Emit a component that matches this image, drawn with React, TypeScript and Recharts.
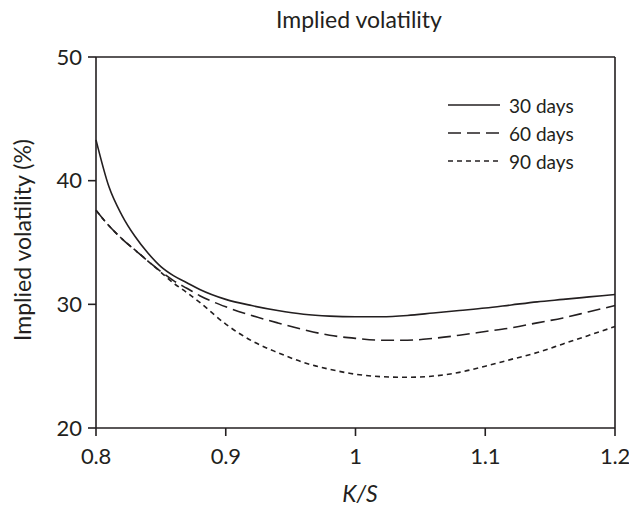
import React from 'react';
import {
  LineChart,
  Line,
  XAxis,
  YAxis,
  ReferenceLine,
  Label,
} from 'recharts';

// strike / spot ratio
const strikes = [
  0.8, 0.81, 0.82, 0.83, 0.84, 0.85, 0.86, 0.87, 0.88, 0.9, 0.92, 0.94, 0.96,
  0.98, 1.0, 1.02, 1.04, 1.06, 1.08, 1.1, 1.12, 1.14, 1.16, 1.18, 1.2,
];

// implied vols (%)
const vol30 = [
  43.3, 39.5, 37.2, 35.5, 34.15, 33.05, 32.3, 31.75, 31.2, 30.4, 29.9, 29.5,
  29.2, 29.05, 29.0, 29.0, 29.1, 29.3, 29.5, 29.7, 29.95, 30.2, 30.4, 30.6,
  30.8,
];
const vol60 = [
  37.6, 36.35, 35.3, 34.4, 33.5, 32.65, 31.9, 31.3, 30.7, 29.8, 29.1, 28.5,
  27.95, 27.5, 27.25, 27.1, 27.1, 27.25, 27.5, 27.8, 28.1, 28.5, 28.9, 29.4,
  29.9,
];
const vol90 = [
  37.6, 36.35, 35.3, 34.4, 33.5, 32.6, 31.7, 30.95, 30.15, 28.4, 27.05, 26.1,
  25.3, 24.75, 24.35, 24.15, 24.1, 24.2, 24.5, 25.0, 25.55, 26.1, 26.8, 27.5,
  28.2,
];

const xTicks = [0.8, 0.9, 1, 1.1, 1.2];
const yTicks = [20, 30, 40, 50];

const seriesNames = ['30 days', '60 days', '90 days'];
const seriesDash = [undefined, '13 6', '5 4'];

const data = strikes.map((k, i) => ({
  k,
  d30: vol30[i],
  d60: vol60[i],
  d90: vol90[i],
}));

const INK = '#231f20';
const FONT = 'Lato, "Open Sans", sans-serif';

// legend drawn inside the svg so it takes no layout space
const renderLegend = () => (
  <g>
    {seriesNames.map((name, i) => (
      <g key={name}>
        <line
          x1={448}
          x2={500}
          y1={105 + i * 28}
          y2={105 + i * 28}
          stroke={INK}
          strokeWidth={1.6}
          strokeDasharray={seriesDash[i]}
        />
        <text
          x={509}
          y={105 + i * 28}
          fontSize={19}
          fontFamily={FONT}
          fill={INK}
          dominantBaseline="central"
        >
          {name}
        </text>
      </g>
    ))}
  </g>
);

const App: React.FC = () => {
  return (
    // pinned to the window corner so the svg covers the full 629x514
    <div style={{ position: 'absolute', left: 0, top: 0, width: 629, height: 514 }}>
      <LineChart
        width={629}
        height={514}
        data={data}
        margin={{ top: 57, right: 14, left: 0, bottom: 0 }}
      >
        <XAxis
          dataKey="k"
          type="number"
          domain={[0.8, 1.2]}
          ticks={xTicks}
          height={86}
          tickSize={8}
          tickMargin={12}
          stroke={INK}
          strokeWidth={1.6}
          tick={{ fill: INK, fontSize: 22, fontFamily: FONT, letterSpacing: -0.3 }}
          tickFormatter={(v: number) => String(v)}
        >
          <Label
            content={() => (
              <text
                x={360}
                y={502}
                textAnchor="middle"
                fontSize={23}
                fontStyle="italic"
                fontFamily={FONT}
                fill={INK}
              >
                K/S
              </text>
            )}
          />
        </XAxis>
        <YAxis
          type="number"
          domain={[20, 50]}
          ticks={yTicks}
          width={96}
          tickSize={8}
          tickMargin={6}
          stroke={INK}
          strokeWidth={1.6}
          tick={{ fill: INK, fontSize: 22, fontFamily: FONT }}
        >
          <Label
            content={() => (
              <text
                x={22}
                y={240}
                transform="rotate(-90 22 240)"
                textAnchor="middle"
                dominantBaseline="central"
                fontSize={23}
                fontFamily={FONT}
                fill={INK}
              >
                Implied volatility (%)
              </text>
            )}
          />
        </YAxis>
        <ReferenceLine y={50} stroke={INK} strokeWidth={1.6}>
          <Label
            content={() => (
              <text
                x={359}
                y={28}
                textAnchor="middle"
                fontSize={23}
                fontFamily={FONT}
                fill={INK}
              >
                Implied volatility
              </text>
            )}
          />
        </ReferenceLine>
        <ReferenceLine x={1.2} stroke={INK} strokeWidth={1.6}>
          <Label content={renderLegend} />
        </ReferenceLine>
        <Line
          type="monotone"
          dataKey="d30"
          name={seriesNames[0]}
          stroke={INK}
          strokeWidth={1.6}
          dot={false}
          isAnimationActive={false}
        />
        <Line
          type="monotone"
          dataKey="d60"
          name={seriesNames[1]}
          stroke={INK}
          strokeWidth={1.6}
          strokeDasharray={seriesDash[1]}
          dot={false}
          isAnimationActive={false}
        />
        <Line
          type="monotone"
          dataKey="d90"
          name={seriesNames[2]}
          stroke={INK}
          strokeWidth={1.6}
          strokeDasharray={seriesDash[2]}
          dot={false}
          isAnimationActive={false}
        />
      </LineChart>
    </div>
  );
};

export default App;
